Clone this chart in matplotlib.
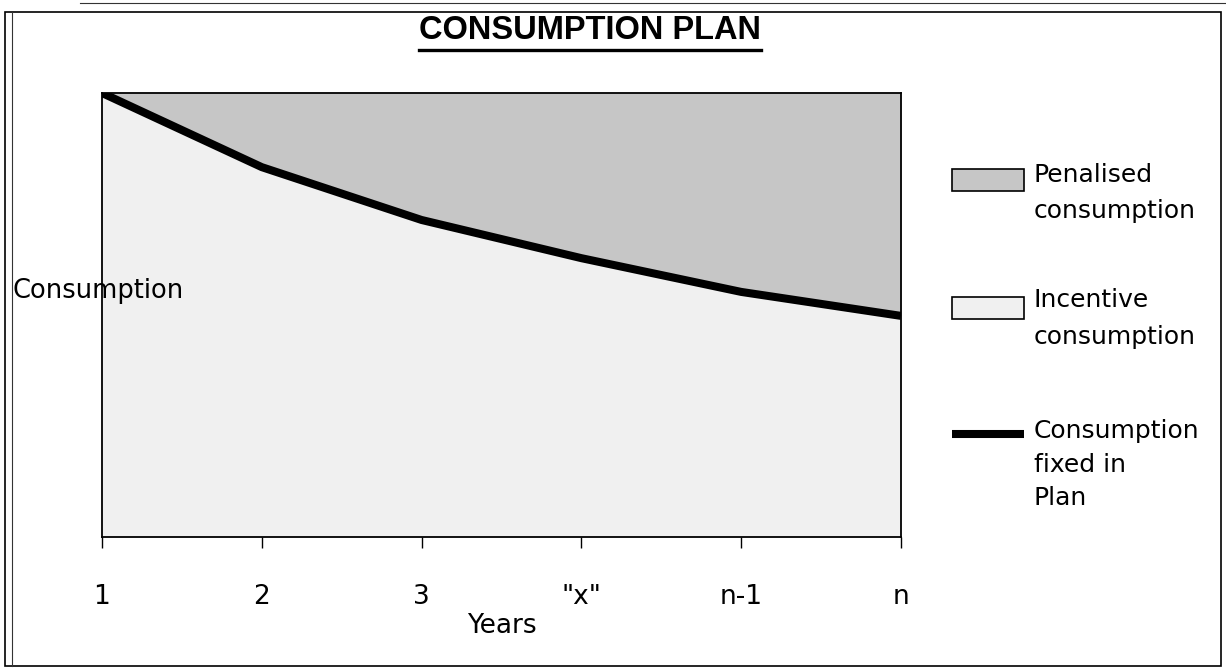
import matplotlib.pyplot as plt
from matplotlib.lines import Line2D
from matplotlib.patches import Rectangle

# data
years = ['1', '2', '3', '"x"', 'n-1', 'n']
plan = [100, 83.3, 71.4, 62.8, 55.2, 49.8]   # consumption fixed in plan
ceiling = [100, 100, 100, 100, 100, 100]     # top of penalised band

dark = '#c6c6c6'
light = '#f0f0f0'

W, H = 1226, 672
fig = plt.figure(figsize=(W / 100, H / 100), dpi=100)
ax = fig.add_axes([102 / W, 1 - 537 / H, 799 / W, 444 / H])

x = list(range(len(years)))
ax.fill_between(x, plan, ceiling, color=dark, lw=0)
ax.fill_between(x, 0, plan, color=light, lw=0)
ax.plot(x, plan, color='black', lw=5.8, solid_capstyle='butt')

ax.set_xlim(0, len(years) - 1)
ax.set_ylim(0, 100)
ax.set_yticks([])
ax.set_xticks(x)
ax.set_xticklabels(years, fontsize=19, family='DejaVu Sans')
ax.tick_params(axis='x', length=8, width=1, pad=26)
for s in ax.spines.values():
    s.set_linewidth(1.3)

ax.set_xlabel('Years', fontsize=19, family='DejaVu Sans', labelpad=2)
ax.set_ylabel('Consumption', rotation=0, fontsize=18.5, family='DejaVu Sans',
              ha='left', va='baseline')
ax.yaxis.set_label_coords((13 - 102) / 799, (537 - 298) / 444)


def px(xp, yp):
    return xp / W, 1 - yp / H


# title with underline
t = fig.text(*px(590, 39), 'CONSUMPTION PLAN', ha='center', va='baseline',
             fontsize=23.5, fontweight='bold', family='Liberation Sans')
fig.canvas.draw()
bb = t.get_window_extent().transformed(fig.transFigure.inverted())
fig.add_artist(Line2D([bb.x0, bb.x1], [1 - 50 / H] * 2, color='black', lw=2.4,
                      transform=fig.transFigure))

# legend drawn by hand
fs = 18
legend_items = [
    ('patch', dark, 169, 163, 1.62, 'Penalised\nconsumption'),
    ('patch', light, 297, 288, 1.68, 'Incentive\nconsumption'),
    ('line', 'black', 434, 419, 1.5, 'Consumption\nfixed in\nPlan'),
]
for kind, col, ymark, ytop, ls, label in legend_items:
    if kind == 'patch':
        x0, y0 = px(952, ymark + 22)
        fig.add_artist(Rectangle((x0, y0), 72 / W, 22 / H, facecolor=col,
                                 edgecolor='black', lw=1.2,
                                 transform=fig.transFigure))
    else:
        fig.add_artist(Line2D([952 / W, 1024 / W], [1 - ymark / H] * 2,
                              color=col, lw=5.8, solid_capstyle='butt',
                              transform=fig.transFigure))
    fig.text(*px(1034, ytop), label, ha='left', va='top', fontsize=fs,
             family='DejaVu Sans', linespacing=ls)

# outer frame
fig.add_artist(Rectangle((5 / W, 1 - 666 / H), 1216 / W, 654 / H,
                         fill=False, edgecolor='black', lw=1.2,
                         transform=fig.transFigure))
fig.add_artist(Line2D([12 / W] * 2, [1 - 666 / H, 1 - 12 / H], color='#333333',
                      lw=0.8, transform=fig.transFigure))
fig.add_artist(Line2D([80 / W, 1], [1 - 3 / H] * 2, color='#333333',
                      lw=0.8, transform=fig.transFigure))

fig.savefig('out.png', dpi=100)
